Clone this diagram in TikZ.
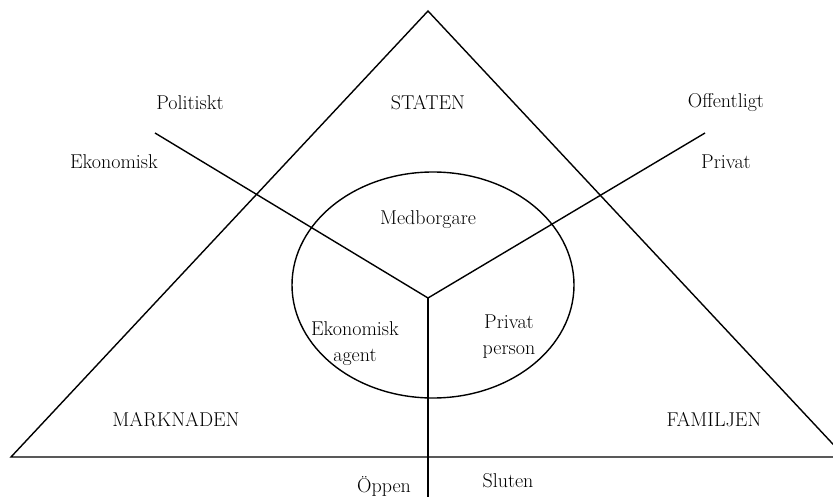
\documentclass[tikz,border=0pt]{standalone}
\usetikzlibrary{shapes.geometric}
\begin{document}
\begin{tikzpicture}[x=1pt,y=-1pt,
  lbl/.style={inner sep=0pt,font=\fontsize{20}{26}\selectfont,align=center},
  ln/.style={line width=1.4pt,black}]
\path[use as bounding box] (0,0) rectangle (833,497);
\clip (0,0) rectangle (833,497);
\coordinate (apex) at (428,11);
\coordinate (bl) at (11,457);
\coordinate (br) at (845,457);
\coordinate (be) at (833,457);
\coordinate (j) at (428,298);
\coordinate (pl) at (155,133);
\coordinate (pr) at (705,133);
\coordinate (bot) at (428,497);
\draw[ln,line join=miter] (be) -- (bl) -- (apex) -- (br);
\node[ln,draw,ellipse,minimum width=282pt,minimum height=226pt,inner sep=0pt] (circ) at (433,285) {};
\draw[ln] (pl) -- (j) -- (pr);
\draw[ln] (j) -- (bot);
\node[lbl] (pol) at (190,103) {Politiskt};
\node[lbl] (sta) at (428,103) {STATEN};
\node[lbl] (off) at (726,103) {Offentligt};
\node[lbl] (eko) at (114,162) {Ekonomisk};
\node[lbl] (pri) at (726,162) {Privat};
\node[lbl] (med) at (428,220) {Medborgare};
\node[lbl] (ekag) at (355,344) {Ekonomisk\\agent};
\node[lbl] (prpe) at (509,337) {Privat\\person};
\node[lbl] (mark) at (176,420) {MARKNADEN};
\node[lbl] (fam) at (714,420) {FAMILJEN};
\node[lbl] (opp) at (384,486) {Öppen};
\node[lbl] (slu) at (508,481) {Sluten};
\end{tikzpicture}
\end{document}
